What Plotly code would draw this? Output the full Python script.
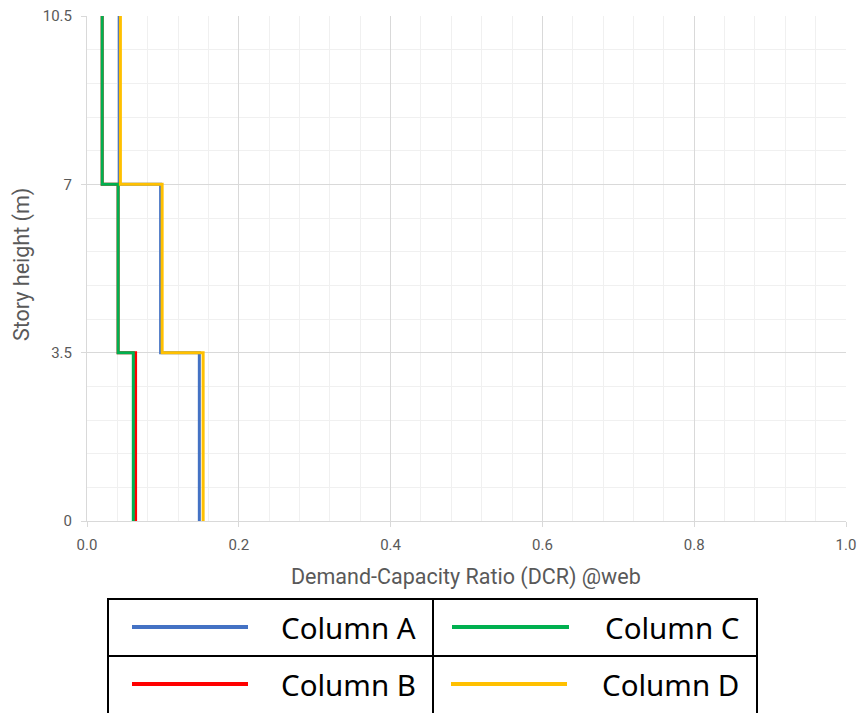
import plotly.graph_objects as go

# ---- data ----
story_levels = [0, 3.5, 7, 10.5]          # floor levels (m)
series_names = ["Column A", "Column B", "Column C", "Column D"]
col_a = [0.148, 0.097, 0.0425]            # DCR per story (1st, 2nd, 3rd)
col_b = [0.064, 0.041, 0.020]
col_c = [0.061, 0.041, 0.020]
col_d = [0.153, 0.099, 0.044]
series_colors = ["#4472C4", "#FF0000", "#00B050", "#FFC000"]
x_ticks = [0.0, 0.2, 0.4, 0.6, 0.8, 1.0]
y_ticks = [0, 3.5, 7, 10.5]
y_ticklabels = ["0", "3.5", "7", "10.5"]

W, H = 858, 713
L, R, T, B = 87, 12, 16, 192
PW, PH = W - L - R, H - T - B


def px(xp):
    return (xp - L) / PW


def py(yp):
    return (H - B - yp) / PH


def step(vals, levels):
    xs, ys = [], []
    for i, v in enumerate(vals):
        xs += [v, v]
        ys += [levels[i], levels[i + 1]]
    return xs, ys


fig = go.Figure()
for name, vals, col in zip(series_names, [col_a, col_b, col_c, col_d], series_colors):
    xs, ys = step(vals, story_levels)
    fig.add_trace(go.Scatter(x=xs, y=ys, mode="lines", name=name,
                             line=dict(color=col, width=3), showlegend=False))

tick_font = dict(family="Roboto, sans-serif", size=15, color="#595959")
fig.update_xaxes(range=[0, 1], tickvals=x_ticks, tickformat=".1f",
                 showgrid=True, gridcolor="#d9d9d9", gridwidth=1,
                 minor=dict(dtick=0.04, showgrid=True, gridcolor="#f0f0f0", gridwidth=1),
                 showline=True, linecolor="#d9d9d9", linewidth=1,
                 ticks="outside", ticklen=5, tickcolor="#d9d9d9",
                 ticklabelstandoff=5, automargin=False,
                 zeroline=False, tickfont=tick_font, fixedrange=True)
fig.update_yaxes(range=[0, 10.5], tickvals=y_ticks, ticktext=y_ticklabels,
                 showgrid=True, gridcolor="#d9d9d9", gridwidth=1,
                 minor=dict(dtick=0.7, tick0=0, showgrid=True, gridcolor="#f0f0f0", gridwidth=1),
                 showline=True, linecolor="#d9d9d9", linewidth=1,
                 ticks="outside", ticklen=5, tickcolor="#d9d9d9",
                 ticklabelstandoff=6, automargin=False,
                 zeroline=False, tickfont=tick_font, fixedrange=True)

title_font = dict(family="Roboto, sans-serif", size=21.5, color="#595959")
annotations = [
    dict(text="Demand-Capacity Ratio (DCR) @web", x=px(466), y=py(577),
         xref="paper", yref="paper", showarrow=False, xanchor="center", yanchor="middle",
         font=title_font),
    dict(text="Story height (m)", x=px(22), y=py(265),
         xref="paper", yref="paper", showarrow=False, textangle=-90,
         xanchor="center", yanchor="middle", font=title_font),
]

shapes = []
# legend table
shapes.append(dict(type="rect", xref="paper", yref="paper",
                   x0=px(108), x1=px(757), y0=py(718), y1=py(599),
                   line=dict(color="black", width=2), layer="above"))
shapes.append(dict(type="line", xref="paper", yref="paper",
                   x0=px(433), x1=px(433), y0=py(718), y1=py(599),
                   line=dict(color="black", width=2)))
shapes.append(dict(type="line", xref="paper", yref="paper",
                   x0=px(108), x1=px(757), y0=py(656), y1=py(656),
                   line=dict(color="black", width=2)))

cells = [  # (line x0, line x1, y, text right edge)
    (132, 248, 627, 418),
    (132, 248, 684, 418),
    (452, 569, 627, 741),
    (451, 567, 684, 741),
]
for (x0, x1, yy, tr), name, col in zip(cells, series_names, series_colors):
    shapes.append(dict(type="line", xref="paper", yref="paper",
                       x0=px(x0), x1=px(x1), y0=py(yy), y1=py(yy),
                       line=dict(color=col, width=4)))
    annotations.append(dict(text=name, x=px(tr), y=py(yy), xref="paper", yref="paper",
                            showarrow=False, xanchor="right", yanchor="middle",
                            font=dict(family="Noto Sans, sans-serif", size=29.5, color="black")))

fig.update_layout(width=W, height=H, margin=dict(l=L, r=R, t=T, b=B, pad=0, autoexpand=False),
                  plot_bgcolor="white", paper_bgcolor="white",
                  annotations=annotations, shapes=shapes, showlegend=False)

fig.write_html("out.html", config={"displayModeBar": False},
               post_script="document.documentElement.style.margin='0';"
                           "document.body.style.margin='0';"
                           "document.body.style.overflow='hidden';"
                           "document.documentElement.style.overflow='hidden';")
